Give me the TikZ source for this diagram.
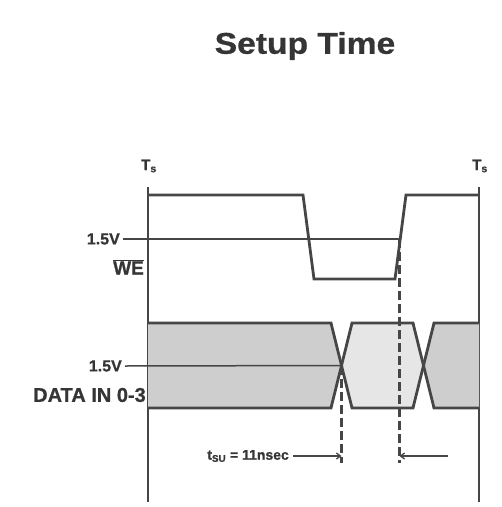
\documentclass[tikz,border=0pt]{standalone}
\usepackage{fontspec}
\usepackage{graphicx}
\setmainfont{Liberation Sans}[BoldFeatures={FakeBold=0.8}]
\usetikzlibrary{arrows.meta}
\definecolor{ink}{HTML}{464646}
\definecolor{txt}{HTML}{353535}
\definecolor{darkfill}{HTML}{CECECE}
\definecolor{lightfill}{HTML}{E6E6E6}
\tikzset{
  sig/.style={draw=ink,line width=2.8pt,line join=miter},
  ref/.style={draw=ink,line width=1.5pt},
  frame/.style={draw=ink,line width=1.9pt},
  guide/.style={draw=ink,line width=2.3pt,dash pattern=on 9pt off 4pt},
  meas/.style={draw=ink,line width=1.3pt,-{Straight Barb[length=4pt,width=6pt]}},
  lbl/.style={text=txt,font=\bfseries,inner sep=0pt},
}
\begin{document}
\begin{tikzpicture}[x=1pt,y=-1pt]
\useasboundingbox (0,0) rectangle (502,507);
% title
\node[lbl,font=\bfseries\fontsize{30}{32}\selectfont] (title) at (305,46) {\scalebox{1.12}[1]{Setup Time}};
% frame lines
\coordinate (lt) at (148,187); \coordinate (lb) at (148,502);
\coordinate (rt) at (479,187); \coordinate (rb) at (479,502);
\draw[frame] (lt) -- (lb);
\draw[frame] (rt) -- (rb);
\node[lbl,font=\bfseries\fontsize{15}{16}\selectfont] (tsl) at (149,166) {T\textsubscript{s}};
\node[lbl,font=\bfseries\fontsize{15}{16}\selectfont] (tsr) at (480,166) {T\textsubscript{s}};
% WE signal
\coordinate (w0) at (148,195); \coordinate (w1) at (303,195);
\coordinate (w2) at (314,279); \coordinate (w3) at (395,279);
\coordinate (w4) at (406,195); \coordinate (w5) at (479,195);
\draw[sig] (w0) -- (w1) -- (w2) -- (w3) -- (w4) -- (w5);
\coordinate (wref0) at (123,239); \coordinate (wx) at (399.5,239);
\draw[ref] (wref0) -- (wx);
\node[lbl,anchor=east,font=\bfseries\fontsize{16}{17}\selectfont] (v1) at (120,239) {1.5V};
\node[lbl,anchor=east,font=\bfseries\fontsize{19}{20}\selectfont] (we) at (144,267) {$\overline{\hbox{WE}}$};
% DATA signal
\coordinate (d0t) at (148,323); \coordinate (d0b) at (148,408);
\coordinate (d1t) at (331,323); \coordinate (d1b) at (331,408);
\coordinate (dx1) at (341.5,365.5);
\coordinate (d2t) at (352,323); \coordinate (d2b) at (352,408);
\coordinate (d3t) at (413,323); \coordinate (d3b) at (413,408);
\coordinate (dx2) at (423.5,365.5);
\coordinate (d4t) at (434,323); \coordinate (d4b) at (434,408);
\coordinate (d5t) at (479,323); \coordinate (d5b) at (479,408);
\fill[darkfill] (d0t) -- (d1t) -- (dx1) -- (d1b) -- (d0b) -- cycle;
\fill[lightfill] (dx1) -- (d2t) -- (d3t) -- (dx2) -- (d3b) -- (d2b) -- cycle;
\fill[darkfill] (dx2) -- (d4t) -- (d5t) -- (d5b) -- (d4b) -- cycle;
\draw[sig] (d0t) -- (d1t) -- (d2b) -- (d3b) -- (d4t) -- (d5t);
\draw[sig] (d0b) -- (d1b) -- (d2t) -- (d3t) -- (d4b) -- (d5b);
\coordinate (dref0) at (125,366);
\draw[ref] (dref0) -- (dx1);
\node[lbl,anchor=east,font=\bfseries\fontsize{16}{17}\selectfont] (v2) at (122,366) {1.5V};
\node[lbl,anchor=east,font=\bfseries\fontsize{20}{21}\selectfont] (data) at (146,395) {DATA IN 0-3};
% guides
\coordinate (g1b) at (341.5,463); \coordinate (g2b) at (399.5,463);
\draw[guide] (dx1) -- (g1b);
\draw[guide] (wx) -- (g2b);
% measurement
\node[lbl,anchor=east,font=\bfseries\fontsize{14}{15}\selectfont] (tsu) at (289,456) {t\textsubscript{SU} = 11nsec};
\coordinate (a1s) at (293,456); \coordinate (a1e) at (341.5,456);
\coordinate (a2s) at (448,456); \coordinate (a2e) at (399.5,456);
\draw[meas] (a1s) -- (a1e);
\draw[meas] (a2s) -- (a2e);
\end{tikzpicture}
\end{document}
